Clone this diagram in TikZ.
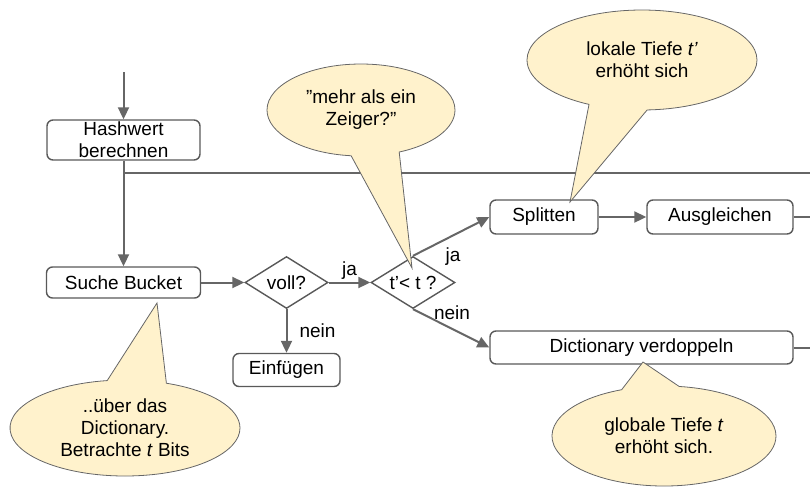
\documentclass[tikz,border=0pt]{standalone}
\usepackage{fontspec}
\setmainfont{Liberation Sans}
\usetikzlibrary{shapes.geometric,shapes.callouts,arrows.meta}
\definecolor{linegray}{HTML}{666666}
\definecolor{boxgray}{HTML}{595959}
\definecolor{cream}{HTML}{FFF2CC}
\begin{document}
\begin{tikzpicture}[x=0.5pt,y=-0.5pt,
  font=\fontsize{9.5}{11}\selectfont,
  box/.style={draw=boxgray,line width=0.7pt,rounded corners=3pt,fill=white,inner sep=0pt,align=center},
  dia/.style={draw=boxgray,line width=0.7pt,diamond,aspect=1.6,fill=white,inner sep=0pt,minimum width=41.5pt,minimum height=26pt},
  conn/.style={draw=linegray,line width=1pt},
  arr/.style={conn,-{Triangle[length=6pt,width=5.5pt]}},
  lbl/.style={inner sep=1pt},
  note/.style={ellipse callout,draw=linegray,line width=0.4pt,fill=cream,inner sep=0pt,align=center,callout pointer arc=30}]
\useasboundingbox (0,0) rectangle (810,489);
% nodes
\coordinate (start) at (123.5,72);
\node[box,minimum width=76.5pt,minimum height=20pt] (hash) at (123.5,140) {Hashwert\\berechnen};
\node[box,minimum width=77pt,minimum height=15.5pt] (suche) at (123.5,282.5) {Suche Bucket};
\node[dia] (voll) at (286.5,282.5) {voll?};
\node[dia,minimum width=42pt] (tt) at (413,282.5) {t’< t ?};
\node[box,minimum width=53.5pt,minimum height=16.5pt] (einf) at (286.5,370) {Einfügen};
\node[box,minimum width=54pt,minimum height=17pt] (split) at (544,217) {Splitten};
\node[box,minimum width=73pt,minimum height=17pt] (ausg) at (720,217) {Ausgleichen};
\node[box,minimum width=151.5pt,minimum height=16.5pt] (dict) at (641.5,347.5) {Dictionary verdoppeln};
\coordinate (j) at (123.5,173);
\coordinate (r1) at (810,173);
\coordinate (r2) at (810,217);
\coordinate (r3) at (810,347.5);
% connectors
\draw[arr] (start) -- (hash.north);
\draw[arr] (hash.south) -- (suche.north);
\draw[conn] (j) -- (r1);
\draw[arr] (suche.east) -- (voll.west);
\draw[arr] (voll.east) -- node[lbl,above] (lja1) {ja} (tt.west);
\draw[arr] (voll.south) -- node[lbl,right=5pt] (lnein1) {nein} (einf.north);
\draw[arr] (tt.north) -- (split.west);
\node[lbl] (lja2) at (453,257) {ja};
\draw[arr] (tt.south) -- (dict.west);
\node[lbl] (lnein2) at (452,313) {nein};
\draw[arr] (split.east) -- (ausg.west);
\draw[conn] (ausg.east) -- (r2);
\draw[conn] (dict.east) -- (r3);
% callouts
\node[note,minimum width=115pt,minimum height=48pt,callout absolute pointer={(157,303)}] (n1) at (125,428) {..über das\\Dictionary.\\Betrachte \textit{t} Bits};
\node[note,minimum width=94pt,minimum height=46pt,callout absolute pointer={(412,268)}] (n2) at (361,110) {”mehr als ein\\Zeiger?”};
\node[note,minimum width=115pt,minimum height=50pt,callout absolute pointer={(570,202)}] (n3) at (642,60) {lokale Tiefe \textit{t’}\\erhöht sich};
\node[note,minimum width=112pt,minimum height=50pt,callout absolute pointer={(643,362)}] (n4) at (664,436) {globale Tiefe \textit{t}\\erhöht sich.};
\end{tikzpicture}
\end{document}
